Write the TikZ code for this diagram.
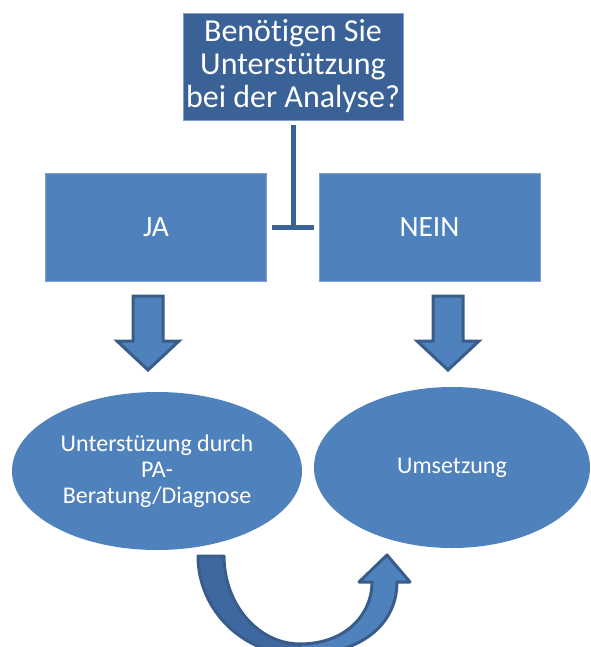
\documentclass[tikz,border=0pt]{standalone}
\usepackage{fontspec}
\setmainfont[Ligatures=NoCommon]{Carlito}
\usetikzlibrary{shapes.geometric}
\definecolor{boxblue}{HTML}{4F81BD}
\definecolor{topblue}{HTML}{3A6297}
\definecolor{edgeblue}{HTML}{385D8A}
\definecolor{darkpiece}{HTML}{3E68A0}
\definecolor{thinedge}{HTML}{7F9FCC}
\tikzset{
  topbox/.style={rectangle, fill=topblue, draw=thinedge, line width=0.8pt, text=white,
    minimum width=220pt, minimum height=107pt, inner sep=0pt, align=center,
    font=\fontsize{32}{33}\selectfont},
  answerbox/.style={rectangle, fill=boxblue, draw=thinedge, line width=0.6pt, text=white,
    minimum width=221pt, minimum height=108pt, inner sep=0pt,
    font=\fontsize{29.5}{33}\selectfont},
  oval/.style={ellipse, fill=boxblue, draw=none, text=white, inner sep=0pt, align=center,
    font=\fontsize{24}{26}\selectfont},
  tline/.style={draw=topblue, line width=5pt},
  downarrow/.style={fill=boxblue, draw=edgeblue, line width=3pt, line join=miter},
  curvedark/.style={fill=darkpiece, draw=edgeblue, line width=3pt, line join=round},
  curvelight/.style={fill=boxblue, draw=edgeblue, line width=3pt, line join=round}
}
\begin{document}
\begin{tikzpicture}[x=1pt,y=-1pt]
\useasboundingbox (0,0) rectangle (590,647);
% top question
\node[topbox] (q) at (293,66.5) {Benötigen Sie\\Unterstützung\\bei der Analyse?};
% answers
\node[answerbox] (ja) at (156,227) {JA};
\node[answerbox] (nein) at (429.5,227) {NEIN};
% T connector
\coordinate (tj) at (293,227.5);
\coordinate (tl) at (272,227.5);
\coordinate (tr) at (314,227.5);
\draw[tline, shorten <=5pt] (q.south) -- (tj);
\draw[tline] (tl) -- (tr);
% down arrows
\begin{scope}[shift={(148,0)}]
\draw[downarrow] (-15,296) -- (15,296) -- (15,341) -- (31,341) -- (0,370) -- (-31,341) -- (-15,341) -- cycle;
\end{scope}
\begin{scope}[shift={(448,0)}]
\draw[downarrow] (-15,296) -- (15,296) -- (15,341) -- (31,341) -- (0,370) -- (-31,341) -- (-15,341) -- cycle;
\end{scope}
% ellipses
\node[oval, minimum width=290pt, minimum height=158pt] (e1) at (157,471) {Unterstüzung durch\\PA-\\Beratung/Diagnose};
\node[oval, minimum width=276pt, minimum height=161pt] (e2) at (452,467.5) {Umsetzung};
% curved arrow from e1 to e2
\draw[curvedark] (198,556) -- (224,556) .. controls (224,604) and (258,644) .. (300,644)
  -- (300,655) .. controls (243,655) and (198,610) .. (198,556) -- cycle;
\draw[curvelight] (300,644) .. controls (345,644) and (372,615) .. (372,582)
  -- (359,582) -- (387,555) -- (410,582) -- (397,582)
  .. controls (397,625) and (360,655) .. (300,655) -- cycle;
\end{tikzpicture}
\end{document}
